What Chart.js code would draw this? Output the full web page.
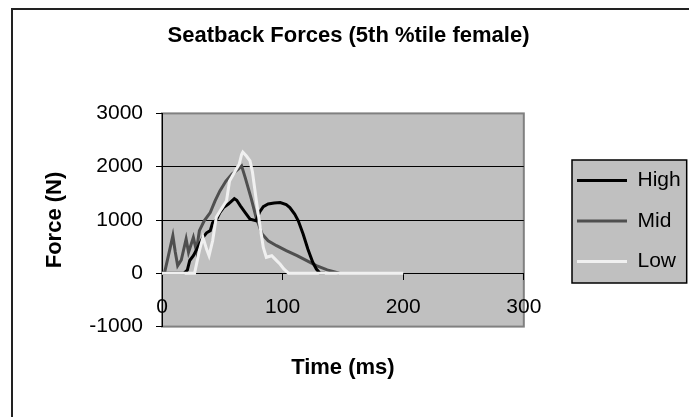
<!DOCTYPE html>
<html>
<head>
<meta charset="utf-8">
<title>Seatback Forces</title>
<script src="https://cdn.jsdelivr.net/npm/chart.js@4.4.1/dist/chart.umd.min.js"></script>
<style>
  html, body { margin: 0; padding: 0; background: #fff; }
  .chartBox { width: 689px; height: 417px; }
</style>
</head>
<body>
<div class="chartBox"><canvas id="myChart"></canvas></div>
<script>
// Seatback force traces, time in ms and force in N

const highTime  = [0, 18, 21, 23, 26, 30, 34, 37, 40, 42, 45, 48, 51, 55, 60, 62, 65, 69, 73, 78, 81, 84, 88, 93, 98, 103, 106, 110, 113, 117, 121, 125, 128, 131, 135];
const highForce = [0, 0, 60, 240, 330, 500, 673, 760, 800, 950, 1000, 1140, 1234, 1300, 1400, 1370, 1266, 1140, 1017, 985, 1150, 1250, 1300, 1320, 1328, 1290, 1234, 1110, 985, 737, 450, 206, 80, 0, 0];

const midTime  = [0, 2, 5, 9, 11, 13, 16, 20, 22, 26, 28.5, 31, 35, 40, 44, 48, 53, 58, 63, 66, 69, 74, 78, 83, 88, 95, 103, 112, 120, 128, 137, 144, 147];
const midForce = [0, 0, 300, 705, 400, 144, 250, 643, 393, 673, 425, 800, 985, 1140, 1360, 1545, 1730, 1860, 1950, 2015, 1795, 1400, 1050, 737, 610, 518, 425, 330, 237, 144, 63, 20, 0];

const lowTime  = [0, 27, 31, 34, 37, 39, 42, 45, 49, 53.5, 56, 60, 64, 66, 67, 70, 73, 75, 78, 81, 84, 86.5, 91, 95, 98, 101, 105, 200];
const lowForce = [0, 0, 425, 673, 450, 330, 610, 1050, 1200, 1360, 1730, 1890, 2045, 2230, 2275, 2200, 2110, 1900, 1400, 925, 486, 300, 330, 237, 170, 82, 0, 0];

const timeTicks  = [0, 100, 200, 300];
const forceTicks = [-1000, 0, 1000, 2000, 3000];

const FONT = "'Liberation Sans', Arial, sans-serif";

function toPoints(times, forces)
{
  return times.map((t, i) => ({ x: t, y: forces[i] }));
}

// gray plot area, legend panel and the outer frame
const chartFrame = {
  id: 'chartFrame',
  afterLayout(chart) {
    // pull the legend in next to the plot and line it up with the panel
    const lg = chart.legend;
    const w = lg.width, h = lg.height;
    lg.left = 577 - lg.options.labels.padding;
    lg.right = lg.left + w;
    lg.top = 170 - lg.options.labels.padding;
    lg.bottom = lg.top + h;

    // title sits a little right of the canvas centre
    const tb = chart.titleBlock;
    if (tb) {
      tb.left += 14;
      tb.right += 14;
    }
  },
  beforeDraw(chart) {
    const { ctx, chartArea: a, legend } = chart;
    ctx.save();
    ctx.fillStyle = '#ffffff';
    ctx.fillRect(0, 0, chart.width, chart.height);

    ctx.strokeStyle = '#222222';
    ctx.lineWidth = 2;
    ctx.strokeRect(12, 9, chart.width + 10, chart.height + 10);

    ctx.fillStyle = '#c0c0c0';
    ctx.fillRect(a.left, a.top, a.right - a.left, a.bottom - a.top);
    ctx.strokeStyle = '#808080';
    ctx.lineWidth = 2;
    ctx.strokeRect(a.left, a.top, a.right - a.left, a.bottom - a.top);

    const boxes = legend.legendHitBoxes;
    if (boxes && boxes.length) {
      const first = boxes[0], last = boxes[boxes.length - 1];
      const left = first.left - 5;
      const top = first.top - 10;
      const right = Math.min(Math.max(...boxes.map(b => b.left + b.width)) + 6, chart.width - 1.5);
      const bottom = last.top + last.height + 11;
      ctx.fillStyle = '#c0c0c0';
      ctx.fillRect(left, top, right - left, bottom - top);
      ctx.strokeStyle = '#000000';
      ctx.lineWidth = 1.5;
      ctx.strokeRect(left, top, right - left, bottom - top);
    }
    ctx.restore();
  }
};

const data = {
  datasets: [
    {
      label: 'High',
      data: toPoints(highTime, highForce),
      borderColor: '#000000',
      backgroundColor: '#000000',
      borderWidth: 3,
      pointRadius: 0,
      order: 1
    },
    {
      label: 'Mid',
      data: toPoints(midTime, midForce),
      borderColor: '#4f4f4f',
      backgroundColor: '#4f4f4f',
      borderWidth: 3,
      pointRadius: 0,
      order: 2
    },
    {
      label: 'Low',
      data: toPoints(lowTime, lowForce),
      borderColor: '#f0f0f0',
      backgroundColor: '#f0f0f0',
      borderWidth: 3,
      pointRadius: 0,
      order: 0
    }
  ]
};

const config = {
  type: 'line',
  data,
  options: {
    responsive: true,
    maintainAspectRatio: false,
    animation: false,
    layout: {
      padding: { top: 8, left: 12, right: 32, bottom: 0 }
    },
    scales: {
      x: {
        type: 'linear',
        position: { y: 0 },
        min: 0,
        max: 300,
        afterBuildTicks: s => { s.ticks = timeTicks.map(v => ({ value: v })); },
        ticks: {
          color: '#000',
          padding: 15,
          maxRotation: 0,
          font: { family: FONT, size: 21 },
          callback: v => String(v)
        },
        grid: {
          drawOnChartArea: false,
          tickLength: 6,
          tickColor: '#000'
        },
        border: { color: '#000', width: 1 }
      },
      xTitle: {
        type: 'linear',
        position: 'bottom',
        min: 0,
        max: 300,
        ticks: { display: false },
        grid: { display: false, drawTicks: false },
        border: { display: false },
        title: {
          display: true,
          text: 'Time (ms)',
          color: '#000',
          font: { family: FONT, size: 22, weight: 'bold' },
          padding: { top: 28, bottom: 36 }
        }
      },
      y: {
        position: 'left',
        min: -1000,
        max: 3000,
        afterBuildTicks: s => { s.ticks = forceTicks.map(v => ({ value: v })); },
        afterFit: s => { s.width = 150; },
        ticks: {
          color: '#000',
          padding: 13,
          font: { family: FONT, size: 21 },
          callback: v => String(v)
        },
        grid: {
          color: c => (c.tick && (c.tick.value === 1000 || c.tick.value === 2000)) ? '#000' : 'rgba(0,0,0,0)',
          lineWidth: 1,
          tickLength: 6,
          tickColor: '#000'
        },
        border: { color: '#000', width: 1 },
        title: {
          display: true,
          text: 'Force (N)',
          color: '#000',
          font: { family: FONT, size: 22, weight: 'bold' },
          padding: { top: 30, bottom: 0 }
        }
      }
    },
    plugins: {
      title: {
        display: true,
        text: 'Seatback Forces (5th %tile female)',
        color: '#000',
        font: { family: FONT, size: 22, weight: 'bold' },
        padding: { top: 15, bottom: 64 }
      },
      legend: {
        position: 'right',
        align: 'start',
        labels: {
          color: '#000',
          font: { family: FONT, size: 21 },
          usePointStyle: true,
          pointStyle: 'line',
          pointStyleWidth: 50,
          padding: 19.5,
          sort: (a, b) => a.datasetIndex - b.datasetIndex
        }
      },
      tooltip: { enabled: false }
    }
  },
  plugins: [chartFrame]
};

const seatbackChart = new Chart(document.getElementById('myChart'), config);
</script>
</body>
</html>
